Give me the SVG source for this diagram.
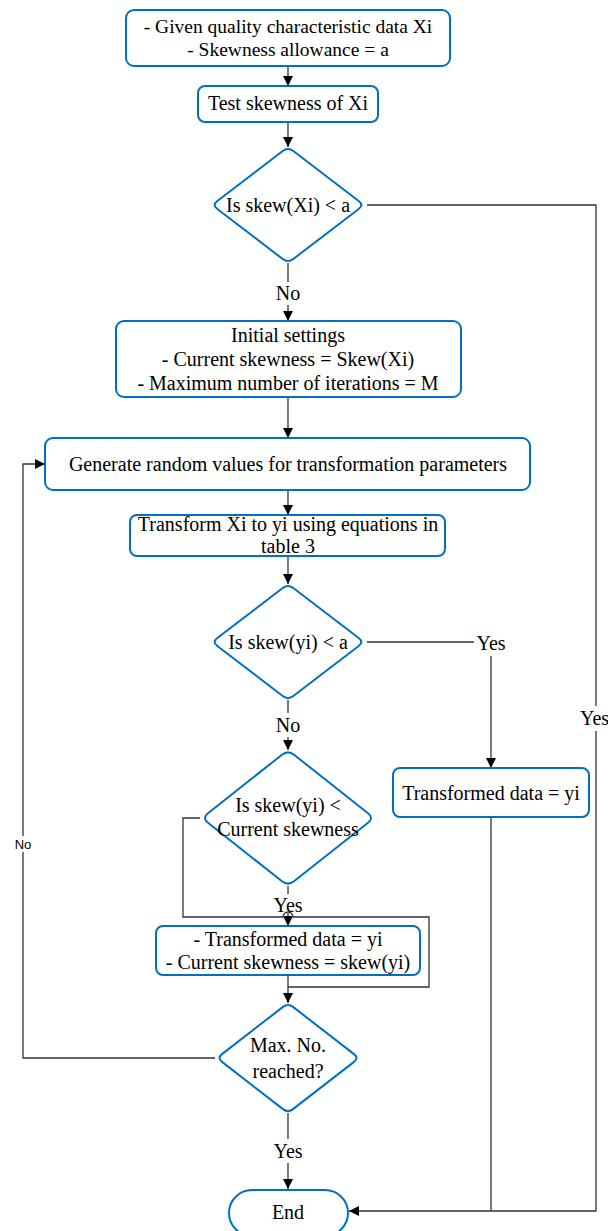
<svg xmlns="http://www.w3.org/2000/svg" width="608" height="1231" viewBox="0 0 608 1231">
<style>
.node{fill:#fff;stroke:#0070C0;stroke-width:2}
.t{font-family:"Liberation Serif","Times New Roman",serif;font-size:20px;fill:#000;text-anchor:middle;dominant-baseline:central}
.s{font-family:"Liberation Sans",Arial,sans-serif;font-size:13px;fill:#000;text-anchor:middle;dominant-baseline:central}
.c{fill:none;stroke:#333;stroke-width:1.3}
</style>
<defs>
<marker id="ah" viewBox="0 0 10 10" refX="10" refY="5" markerWidth="10" markerHeight="10" markerUnits="userSpaceOnUse" orient="auto">
<path d="M0,0 L10,5 L0,10 Z" fill="#000"/>
</marker>
</defs>
<rect width="608" height="1231" fill="#fff"/>
<g id="connectors">
<path class="c" d="M288,66 V86" marker-end="url(#ah)"/>
<path class="c" d="M288,122 V147" marker-end="url(#ah)"/>
<path class="c" d="M367,205 H596 V706"/>
<path class="c" d="M596,731 V1211 H349" marker-end="url(#ah)"/>
<path class="c" d="M288,263 V282"/>
<path class="c" d="M288,305 V321" marker-end="url(#ah)"/>
<path class="c" d="M288,397 V438" marker-end="url(#ah)"/>
<path class="c" d="M288,490 V515" marker-end="url(#ah)"/>
<path class="c" d="M288,556 V584" marker-end="url(#ah)"/>
<path class="c" d="M367,642 H474"/>
<path class="c" d="M491,656 V768" marker-end="url(#ah)"/>
<path class="c" d="M491,817 V1211"/>
<path class="c" d="M288,700 V713"/>
<path class="c" d="M288,737 V750" marker-end="url(#ah)"/>
<path class="c" d="M288,886 V894"/>
<path class="c" d="M288,913 V926" marker-end="url(#ah)"/>
<path class="c" d="M200,818 H183 V917 H283 A5,5 0 0 1 293,917 H429 V987 H288"/>
<path class="c" d="M288,975 V1003" marker-end="url(#ah)"/>
<path class="c" d="M215,1058 H23 V852"/>
<path class="c" d="M23,836 V464 H45" marker-end="url(#ah)"/>
<path class="c" d="M288,1113 V1139"/>
<path class="c" d="M288,1163 V1189" marker-end="url(#ah)"/>
<text class="t" x="288" y="293">No</text>
<text class="t" x="580" y="718" style="text-anchor:start">Yes</text>
<text class="t" x="491" y="643">Yes</text>
<text class="t" x="288" y="725">No</text>
<text class="t" x="288" y="905">Yes</text>
<text class="s" x="23" y="844">No</text>
<text class="t" x="288" y="1151">Yes</text>
</g>
<g id="n1">
<rect class="node" x="126" y="10" width="324" height="56" rx="8"/>
<text class="t" x="288" y="26" style="font-size:19.5px">- Given quality characteristic data Xi</text>
<text class="t" x="288" y="49" style="font-size:19.5px">- Skewness allowance = a</text>
</g>
<g id="n2">
<rect class="node" x="198" y="86" width="180" height="36" rx="7"/>
<text class="t" x="288" y="103">Test skewness of Xi</text>
</g>
<g id="d1">
<path class="node" d="M282.7,151 Q288,147 293.3,151 L358.7,201 Q364,205 358.7,209 L293.3,259 Q288,263 282.7,259 L217.3,209 Q212,205 217.3,201 Z"/>
<text class="t" x="288" y="205">Is skew(Xi) &lt; a</text>
</g>
<g id="n3">
<rect class="node" x="116" y="321" width="345" height="76" rx="8"/>
<text class="t" x="288" y="335">Initial settings</text>
<text class="t" x="288" y="359">- Current skewness = Skew(Xi)</text>
<text class="t" x="288" y="383">- Maximum number of iterations = M</text>
</g>
<g id="n4">
<rect class="node" x="45" y="438" width="485" height="52" rx="8"/>
<text class="t" x="288" y="464">Generate random values for transformation parameters</text>
</g>
<g id="n5">
<rect class="node" x="130" y="515" width="315" height="41" rx="7"/>
<text class="t" x="288" y="524">Transform Xi to yi using equations in</text>
<text class="t" x="288" y="546">table 3</text>
</g>
<g id="d2">
<path class="node" d="M282.7,588 Q288,584 293.3,588 L358.7,638 Q364,642 358.7,646 L293.3,696 Q288,700 282.7,696 L217.3,646 Q212,642 217.3,638 Z"/>
<text class="t" x="288" y="642">Is skew(yi) &lt; a</text>
</g>
<g id="n6">
<rect class="node" x="393" y="768" width="196" height="49" rx="7"/>
<text class="t" x="491" y="793">Transformed data = yi</text>
</g>
<g id="d3">
<path class="node" d="M282,754.7 Q288,750 294,754.7 L368,813.3 Q374,818 368,822.7 L294,881.3 Q288,886 282,881.3 L208,822.7 Q202,818 208,813.3 Z"/>
<text class="t" x="288" y="805">Is skew(yi) &lt;</text>
<text class="t" x="288" y="829">Current skewness</text>
</g>
<g id="n7">
<rect class="node" x="156" y="926" width="264" height="49" rx="7"/>
<text class="t" x="288" y="939">- Transformed data = yi</text>
<text class="t" x="288" y="962">- Current skewness = skew(yi)</text>
</g>
<g id="d4">
<path class="node" d="M283,1006.9 Q288,1003 293,1006.9 L354,1054.1 Q359,1058 354,1061.9 L293,1109.1 Q288,1113 283,1109.1 L222,1061.9 Q217,1058 222,1054.1 Z"/>
<text class="t" x="288" y="1045">Max. No.</text>
<text class="t" x="288" y="1071">reached?</text>
</g>
<g id="end">
<rect class="node" x="229" y="1190" width="119" height="46" rx="23"/>
<text class="t" x="288" y="1212">End</text>
</g>
</svg>
